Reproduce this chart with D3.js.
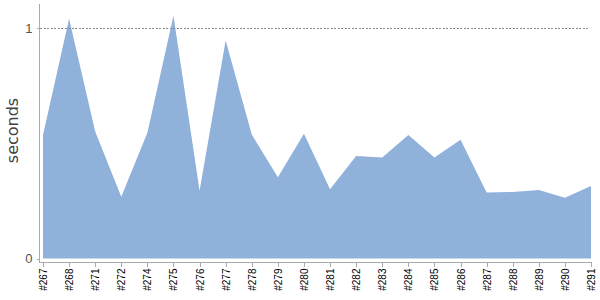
<!DOCTYPE html>
<html lang="en">
    <head>
        <meta charset="utf-8">
        <title>seconds</title>
        <script src="https://d3js.org/d3.v7.min.js" charset="utf-8"></script>
        <style>
            body {
              margin: 0;
              font: 10px "DejaVu Sans", sans-serif;
              background: #fff;
            }
            .axis line, .axis path {
              stroke: #aaa;
              shape-rendering: crispEdges;
            }
        </style>
    </head>
    <body>
        <div id="chart"></div>
        <script type="text/javascript">
            // builds and their durations (seconds)
            var builds = ["#267", "#268", "#271", "#272", "#274", "#275", "#276", "#277", "#278", "#279", "#280",
                          "#281", "#282", "#283", "#284", "#285", "#286", "#287", "#288", "#289", "#290", "#291"];
            var seconds = [0.536, 1.040, 0.551, 0.268, 0.546, 1.053, 0.294, 0.946, 0.538, 0.353, 0.541,
                           0.300, 0.445, 0.438, 0.536, 0.438, 0.515, 0.286, 0.289, 0.297, 0.264, 0.315];
            var yTicks = [0, 1];

            var width = 600, height = 300;
            var data = builds.map(function(b, i) { return {build: b, value: seconds[i]}; });

            var svg = d3.select("#chart").append("svg")
                .attr("width", width)
                .attr("height", height);

            var xScale = d3.scalePoint()
                .domain(builds)
                .range([43, 591]);

            var yScale = d3.scaleLinear()
                .domain([0, 1])
                .range([258.5, 28]);

            // area
            var area = d3.area()
                .x(function(d) { return xScale(d.build); })
                .y0(yScale(0))
                .y1(function(d) { return yScale(d.value); });

            svg.append("path")
                .datum(data)
                .attr("d", area)
                .style("fill", "#8fb1da");

            // dashed line at 1
            svg.append("line")
                .attr("x1", 40).attr("x2", 590)
                .attr("y1", yScale(1)).attr("y2", yScale(1))
                .style("stroke", "#888")
                .style("stroke-dasharray", "2,1.5")
                .style("shape-rendering", "crispEdges");

            // y axis
            var yAxis = d3.axisLeft(yScale).tickValues(yTicks).tickFormat(d3.format("d"))
                .tickSize(3).tickSizeOuter(0);
            var gy = svg.append("g")
                .attr("class", "axis")
                .attr("transform", "translate(39.5,0)")
                .call(yAxis);
            gy.select(".domain").attr("d", "M0,4V262.5");
            gy.selectAll("text")
                .attr("x", -7)
                .style("font-size", "13px")
                .style("fill", "#555");

            // x axis
            var xAxis = d3.axisBottom(xScale).tickSize(4).tickSizeOuter(0);
            var gx = svg.append("g")
                .attr("class", "axis")
                .attr("transform", "translate(0,262.5)")
                .call(xAxis);
            gx.select(".domain").attr("d", "M39.5,0H591.5");
            gx.selectAll("text")
                .attr("transform", "rotate(-90)")
                .attr("x", -6)
                .attr("y", 0)
                .attr("dy", ".35em")
                .style("text-anchor", "end")
                .style("font-size", "10px")
                .style("fill", "#000");

            // y label
            svg.append("text")
                .attr("transform", "translate(18,130.5) rotate(-90)")
                .style("text-anchor", "middle")
                .style("font-size", "16px")
                .style("fill", "#444")
                .text("seconds");
        </script>
    </body>
</html>
